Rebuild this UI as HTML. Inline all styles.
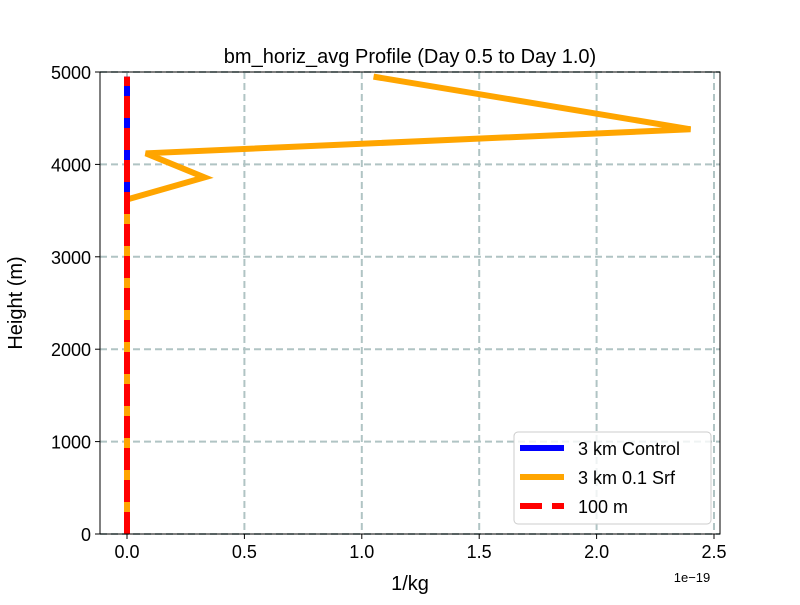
<!DOCTYPE html>
<html><head><meta charset="utf-8"><style>
body{margin:0;background:#fff;}
svg{font-family:"Liberation Sans","DejaVu Sans",sans-serif;}
</style></head><body>
<svg width="800" height="600" id="chart">
<text x="410" y="63" font-size="20" text-anchor="middle">bm_horiz_avg Profile (Day 0.5 to Day 1.0)</text>
<g id="grid"></g>
<g id="series"></g>
<rect x="100" y="72" width="620" height="462" fill="none" stroke="#000" stroke-width="1"/>
<g id="ticks"></g>
<text x="410" y="590" font-size="20" text-anchor="middle">1/kg</text>
<text x="692" y="582" font-size="13" text-anchor="middle">1e−19</text>
<text transform="translate(22,303) rotate(-90)" font-size="20" text-anchor="middle">Height (m)</text>
<g>
<rect x="514" y="432" width="197" height="92" rx="4" fill="#fff" fill-opacity="0.8" stroke="#ccc"/>
<line x1="520" y1="448" x2="564" y2="448" stroke="#0000ff" stroke-width="6"/>
<text x="578" y="455" font-size="18">3 km Control</text>
<line x1="520" y1="477" x2="564" y2="477" stroke="#ffa500" stroke-width="6"/>
<text x="578" y="484" font-size="18">3 km 0.1 Srf</text>
<line x1="520" y1="506" x2="564" y2="506" stroke="#ff0000" stroke-width="6" stroke-dasharray="22,10"/>
<text x="578" y="513" font-size="18">100 m</text>
</g>
</svg>
<script>
const xTicks=[0,0.5,1.0,1.5,2.0,2.5];
const xTickLabels=["0.0","0.5","1.0","1.5","2.0","2.5"];
const yTicks=[0,1000,2000,3000,4000,5000];
const yTickLabels=["0","1000","2000","3000","4000","5000"];
const heights=[0,3620,3860,4120,4380,4950];
const controlValues=[0,0,0,0,0,0];
const srfValues=[0,0,0.33,0.08,2.40,1.05];
const m100Values=[0,0,0,0,0,0];
const X=v=>127+v*234.8;
const Y=v=>534-v*0.0924;
const NS="http://www.w3.org/2000/svg";
const grid=document.getElementById('grid'),ticks=document.getElementById('ticks'),series=document.getElementById('series');
function mk(tag,attrs,parent){const e=document.createElementNS(NS,tag);for(const k in attrs)e.setAttribute(k,attrs[k]);parent.appendChild(e);return e;}
xTicks.forEach((t,i)=>{
  const g=mk('line',{x1:X(t),x2:X(t),y1:72,y2:534,stroke:'#b0c4c4',"stroke-width":2,"stroke-dasharray":"7,4"},grid);
  
  
  mk('line',{x1:X(t),x2:X(t),y1:534,y2:539,stroke:'#000'},ticks);
  const tx=mk('text',{x:X(t),y:558,"font-size":18,"text-anchor":"middle"},ticks);tx.textContent=xTickLabels[i];
  
  
});
yTicks.forEach((t,i)=>{
  const g=mk('line',{x1:100,x2:720,y1:Y(t),y2:Y(t),stroke:'#b0c4c4',"stroke-width":2,"stroke-dasharray":"7,4"},grid);
  
  
  mk('line',{x1:95,x2:100,y1:Y(t),y2:Y(t),stroke:'#000'},ticks);
  const tx=mk('text',{x:91,y:Y(t)+7,"font-size":18,"text-anchor":"end"},ticks);tx.textContent=yTickLabels[i];
  
  
});
function pts(vals){return vals.map((v,i)=>X(v)+','+Y(heights[i])).join(' ');}
const l1=mk('polyline',{points:pts(controlValues),fill:'none',stroke:'#0000ff',"stroke-width":6},series);


const l2=mk('polyline',{points:pts(srfValues),fill:'none',stroke:'#ffa500',"stroke-width":6,"stroke-linejoin":"miter"},series);


const l3=mk('polyline',{points:pts(m100Values),fill:'none',stroke:'#ff0000',"stroke-width":6,"stroke-dasharray":"22,10"},series);


</script>
</body></html>
